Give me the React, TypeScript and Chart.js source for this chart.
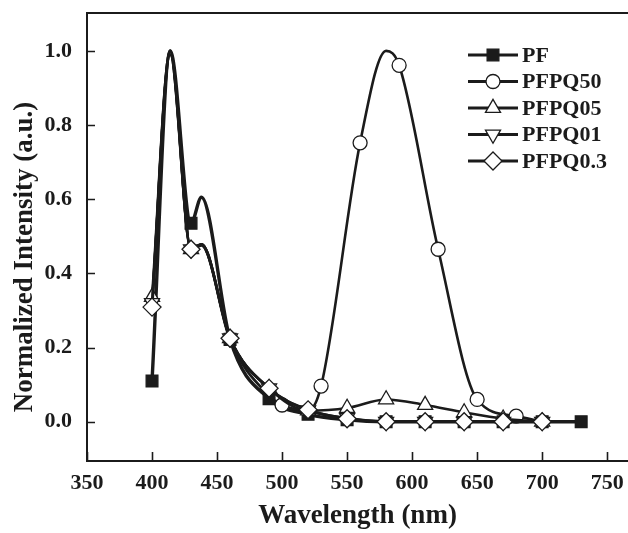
import React, { useEffect, useRef } from 'react';
import { Chart, registerables } from 'chart.js';
import { drawPoint } from 'chart.js/helpers';

Chart.register(...registerables);

// ---------- data ----------
const seriesNames = ['PF', 'PFPQ50', 'PFPQ05', 'PFPQ01', 'PFPQ0.3'];

const pfX = [400, 414, 430, 438, 460, 490, 520, 550, 580, 610, 640, 670, 700, 730];
const pfY = [0.11, 1.0, 0.535, 0.605, 0.222, 0.062, 0.02, 0.005, 0.0, 0.0, 0.0, 0.0, 0.0, 0.0];
const pfMarks = [1, 0, 1, 0, 1, 1, 1, 1, 1, 1, 1, 1, 1, 1];

const q50X = [400, 414, 430, 438, 460, 490, 500, 520, 530, 560, 580, 590, 620, 650, 680, 700];
const q50Y = [0.32, 1.0, 0.46, 0.475, 0.22, 0.07, 0.045, 0.03, 0.096, 0.752, 1.0, 0.961, 0.465, 0.06, 0.015, 0.0];
const q50Marks = [0, 0, 0, 0, 0, 0, 1, 0, 1, 1, 0, 1, 1, 1, 1, 0];

const q05X = [400, 414, 430, 438, 460, 490, 520, 550, 580, 610, 640, 670, 700];
const q05Y = [0.336, 1.0, 0.465, 0.478, 0.225, 0.09, 0.03, 0.037, 0.06, 0.045, 0.025, 0.008, 0.0];
const q05Marks = [1, 0, 1, 0, 1, 1, 1, 1, 1, 1, 1, 1, 1];

const q01X = [400, 414, 430, 438, 460, 490, 520, 550, 580, 610, 640, 670, 700];
const q01Y = [0.32, 0.99, 0.465, 0.478, 0.225, 0.09, 0.031, 0.01, 0.0, 0.0, 0.0, 0.0, 0.0];
const q01Marks = [1, 0, 1, 0, 1, 1, 1, 1, 1, 1, 1, 1, 1];

const q03X = [400, 414, 430, 438, 460, 490, 520, 550, 580, 610, 640, 670, 700];
const q03Y = [0.309, 0.99, 0.465, 0.478, 0.225, 0.09, 0.032, 0.008, 0.0, 0.0, 0.0, 0.0, 0.0];
const q03Marks = [1, 0, 1, 0, 1, 1, 1, 1, 1, 1, 1, 1, 1];

const xTicks = [350, 400, 450, 500, 550, 600, 650, 700, 750];
const yTicks = [0.0, 0.2, 0.4, 0.6, 0.8, 1.0];

// ---------- styling ----------
const INK = '#1b1b1b';
const FONT = '"Liberation Serif", "Times New Roman", serif';

type Style = { pointStyle: string; rotation: number; radius: number; fill: string; lineWidth: number };
const styles: Style[] = [
  { pointStyle: 'rect', rotation: 0, radius: 8.3, fill: INK, lineWidth: 3.4 },
  { pointStyle: 'circle', rotation: 0, radius: 7, fill: '#ffffff', lineWidth: 2.6 },
  { pointStyle: 'triangle', rotation: 0, radius: 8.7, fill: '#ffffff', lineWidth: 2.6 },
  { pointStyle: 'triangle', rotation: 180, radius: 8.7, fill: '#ffffff', lineWidth: 2.6 },
  { pointStyle: 'rectRot', rotation: 0, radius: 9, fill: '#ffffff', lineWidth: 2.8 },
];

const seriesX = [pfX, q50X, q05X, q01X, q03X];
const seriesY = [pfY, q50Y, q05Y, q01Y, q03Y];
const seriesMarks = [pfMarks, q50Marks, q05Marks, q01Marks, q03Marks];

const decorPlugin = {
  id: 'decor',
  beforeDatasetsDraw(chart: any) {
    const { ctx, chartArea: a, scales } = chart;
    const x = scales.x;
    const y = scales.y;
    ctx.save();
    ctx.strokeStyle = INK;
    ctx.lineWidth = 2;
    ctx.beginPath();
    ctx.moveTo(a.left - 1, a.top);
    ctx.lineTo(a.right, a.top);
    ctx.stroke();
    ctx.lineWidth = 1.6;
    ctx.beginPath();
    x.ticks.forEach((t: any) => {
      const px = Math.round(x.getPixelForValue(t.value)) + 0.5;
      ctx.moveTo(px, a.bottom);
      ctx.lineTo(px, a.bottom - 9);
    });
    y.ticks.forEach((t: any) => {
      const py = Math.round(y.getPixelForValue(t.value)) + 0.5;
      ctx.moveTo(a.left, py);
      ctx.lineTo(a.left + 8, py);
    });
    ctx.stroke();
    ctx.restore();
  },
  afterDraw(chart: any) {
    const { ctx } = chart;
    ctx.save();
    // y axis title
    ctx.translate(25, 257);
    ctx.rotate(-Math.PI / 2);
    ctx.fillStyle = INK;
    ctx.font = `bold 27px ${FONT}`;
    ctx.textAlign = 'center';
    ctx.textBaseline = 'middle';
    ctx.fillText('Normalized Intensity (a.u.)', 0, 0);
    ctx.restore();

    // legend
    ctx.save();
    const x0 = 468, x1 = 518, xm = 493, tx = 522;
    seriesNames.forEach((name, i) => {
      const yy = 55 + i * 26.5;
      const s = styles[i];
      ctx.strokeStyle = INK;
      ctx.lineWidth = 3;
      ctx.beginPath();
      ctx.moveTo(x0, yy);
      ctx.lineTo(x1, yy);
      ctx.stroke();
      ctx.fillStyle = s.fill;
      ctx.strokeStyle = INK;
      ctx.lineWidth = 1.3;
      drawPoint(ctx, { pointStyle: s.pointStyle as any, rotation: s.rotation, radius: s.radius, borderWidth: 1.3 }, xm, yy);
      ctx.fillStyle = INK;
      ctx.font = `bold 22px ${FONT}`;
      ctx.textAlign = 'left';
      ctx.textBaseline = 'middle';
      ctx.fillText(name, tx, yy + 1);
    });
    ctx.restore();
  },
};

export default function App() {
  const canvasRef = useRef<HTMLCanvasElement | null>(null);

  useEffect(() => {
    const canvas = canvasRef.current;
    if (!canvas) return;
    const datasets = seriesNames.map((name, i) => {
      const s = styles[i];
      return {
        label: name,
        data: seriesX[i].map((xv, j) => ({ x: xv, y: seriesY[i][j] })),
        borderColor: INK,
        borderWidth: s.lineWidth,
        backgroundColor: s.fill,
        pointStyle: s.pointStyle as any,
        pointRotation: s.rotation,
        pointRadius: seriesMarks[i].map((m) => (m ? s.radius : 0)),
        pointBackgroundColor: s.fill,
        pointBorderColor: INK,
        pointBorderWidth: 1.3,
        cubicInterpolationMode: 'monotone' as const,
        fill: false,
        order: seriesNames.length - i,
      };
    });

    const chart = new Chart(canvas, {
      type: 'line',
      data: { datasets },
      options: {
        responsive: false,
        animation: false,
        devicePixelRatio: 1,
        layout: { autoPadding: false, padding: { top: 13, right: 0, left: 0, bottom: 0 } },
        plugins: { legend: { display: false }, tooltip: { enabled: false } },
        scales: {
          x: {
            type: 'linear',
            min: 350,
            max: 766,
            afterFit: (sc: any) => { sc.height = 72; sc.paddingLeft = 0; sc.paddingRight = 0; },
            afterBuildTicks: (sc: any) => { sc.ticks = xTicks.map((v) => ({ value: v })); },
            border: { display: true, color: INK, width: 2 },
            grid: { display: true, drawOnChartArea: false, drawTicks: false },
            ticks: {
              color: INK,
              padding: 9,
              maxRotation: 0,
              autoSkip: false,
              font: { family: FONT, size: 22, weight: 'bold' },
              callback: (v: any) => String(v),
            },
            title: {
              display: true,
              text: 'Wavelength (nm)',
              color: INK,
              font: { family: FONT, size: 27, weight: 'bold' },
              padding: { top: 0, bottom: 1 },
            },
          },
          y: {
            type: 'linear',
            min: -0.106,
            max: 1.102,
            afterFit: (sc: any) => { sc.width = 87; sc.paddingTop = 0; sc.paddingBottom = 0; },
            afterBuildTicks: (sc: any) => { sc.ticks = yTicks.map((v) => ({ value: v })); },
            border: { display: true, color: INK, width: 2 },
            grid: { display: true, drawOnChartArea: false, drawTicks: false },
            ticks: {
              color: INK,
              padding: 15,
              autoSkip: false,
              font: { family: FONT, size: 22, weight: 'bold' },
              callback: (v: any) => Number(v).toFixed(1),
            },
          },
        },
      },
      plugins: [decorPlugin],
    } as any);

    return () => chart.destroy();
  }, []);

  return (
    <div style={{ position: 'absolute', left: 0, top: 0, width: 628, height: 533, background: '#fff' }}>
      <canvas ref={canvasRef} width={628} height={533} style={{ display: 'block', width: 628, height: 533 }} />
    </div>
  );
}
